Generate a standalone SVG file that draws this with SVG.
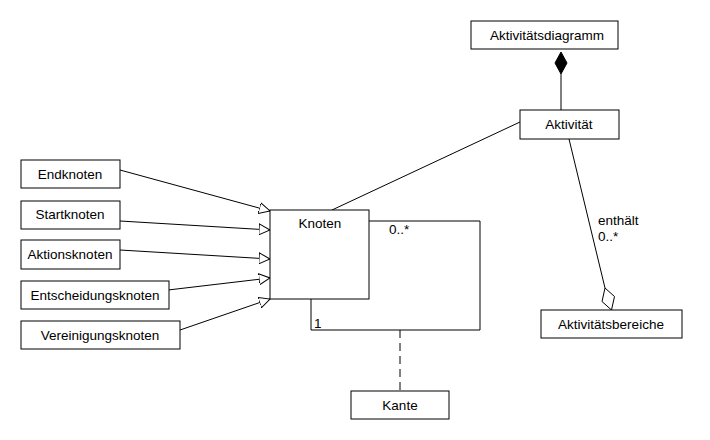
<svg xmlns="http://www.w3.org/2000/svg" width="710" height="440" viewBox="0 0 710 440">
<style>
rect.n{fill:#fff;stroke:#000;stroke-width:1}
text{font-family:"Liberation Sans",Arial,sans-serif;font-size:13.5px;fill:#000}
.c{text-anchor:middle}
.l{fill:none;stroke:#000;stroke-width:1}
</style>
<defs>
<marker id="gen" viewBox="0 0 12 12" refX="11" refY="6" markerWidth="12" markerHeight="12" markerUnits="userSpaceOnUse" orient="auto">
<path d="M0,0.5 L11,6 L0,11.5 Z" fill="#fff" stroke="#000" stroke-width="1"/>
</marker>
</defs>
<rect width="710" height="440" fill="#fff"/>
<g id="connectors">
<line class="l" x1="120" y1="170" x2="270" y2="211" marker-end="url(#gen)"/>
<line class="l" x1="120" y1="221" x2="270" y2="230" marker-end="url(#gen)"/>
<line class="l" x1="120" y1="250" x2="270" y2="259" marker-end="url(#gen)"/>
<line class="l" x1="168" y1="290" x2="270" y2="278" marker-end="url(#gen)"/>
<line class="l" x1="180" y1="330" x2="270" y2="299" marker-end="url(#gen)"/>
<line class="l" x1="332" y1="210" x2="520" y2="122"/>
<line class="l" x1="561" y1="74" x2="561" y2="110"/>
<path d="M561,52 L567,63 L561,74 L555,63 Z" fill="#000" stroke="#000"/>
<line class="l" x1="569" y1="139" x2="605" y2="288"/>
<path d="M605,288 L614.5,296.5 L611.5,310 L602,301.5 Z" fill="#fff" stroke="#000"/>
<polyline class="l" points="369,221 480,221 480,330 311,330 311,299"/>
<line class="l" x1="400" y1="330" x2="400" y2="391" stroke-dasharray="8,5"/>
<text x="389" y="234">0..*</text>
<text x="314" y="328">1</text>
<text x="598" y="225">enthält</text>
<text x="598" y="241">0..*</text>
</g>
<g id="aktivitaetsdiagramm"><rect class="n" x="471" y="21" width="147" height="28"/><text class="c" x="547" y="40">Aktivitätsdiagramm</text></g>
<g id="aktivitaet"><rect class="n" x="520" y="110" width="99" height="29"/><text class="c" x="569" y="129">Aktivität</text></g>
<g id="aktivitaetsbereiche"><rect class="n" x="541" y="310" width="141" height="28"/><text class="c" x="611" y="329">Aktivitätsbereiche</text></g>
<g id="endknoten"><rect class="n" x="21" y="160" width="99" height="28"/><text class="c" x="70" y="179">Endknoten</text></g>
<g id="startknoten"><rect class="n" x="21" y="201" width="99" height="28"/><text class="c" x="70" y="219">Startknoten</text></g>
<g id="aktionsknoten"><rect class="n" x="21" y="240" width="99" height="29"/><text class="c" x="70" y="259">Aktionsknoten</text></g>
<g id="entscheidungsknoten"><rect class="n" x="21" y="281" width="148" height="28"/><text class="c" x="95" y="300">Entscheidungsknoten</text></g>
<g id="vereinigungsknoten"><rect class="n" x="21" y="321" width="159" height="28"/><text class="c" x="100" y="340">Vereinigungsknoten</text></g>
<g id="knoten"><rect class="n" x="270" y="210" width="99" height="89"/><text class="c" x="320" y="228">Knoten</text></g>
<g id="kante"><rect class="n" x="351" y="391" width="98" height="28"/><text class="c" x="400" y="410">Kante</text></g>
</svg>
